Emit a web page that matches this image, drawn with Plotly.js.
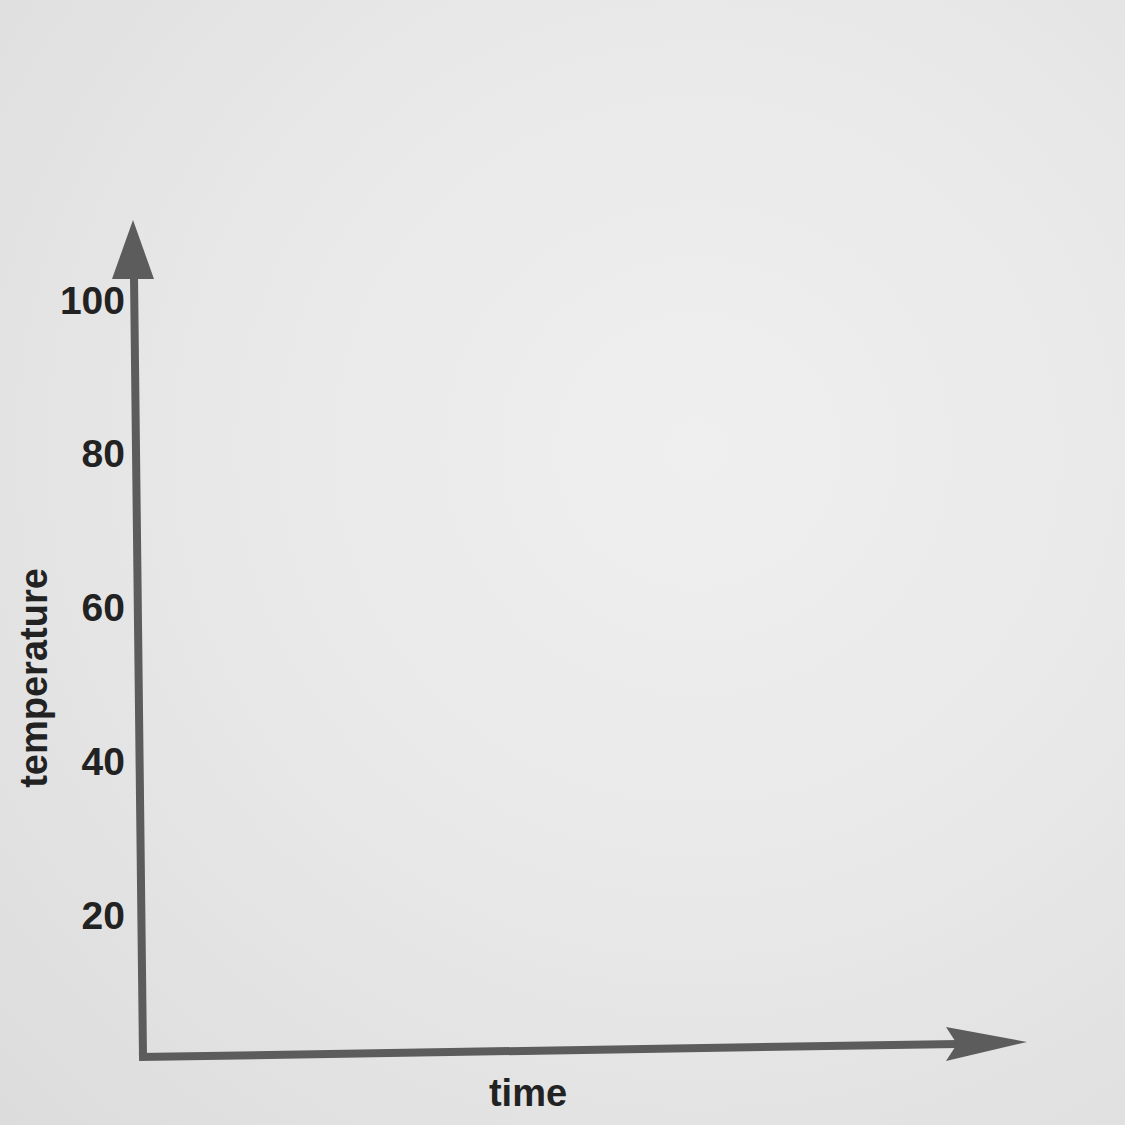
<!DOCTYPE html>
<html>
<head>
<meta charset="utf-8">
<script src="https://cdn.plot.ly/plotly-3.0.1.min.js"></script>
<style>
  html, body { margin: 0; padding: 0; width: 1125px; height: 1125px; overflow: hidden; }
  body { background: radial-gradient(ellipse at 62% 40%, #efefef 0%, #e9e9e9 45%, #dcdcdc 100%); }
  #chart { width: 1125px; height: 1125px; }
</style>
</head>
<body>
<div id="chart"></div>
<script>
// ---- chart content (an empty temperature-vs-time frame) ----
const timeValues = [];          // no plotted data in the reference
const temperatureValues = [];   // no plotted data in the reference
const yTickVals = [20, 40, 60, 80, 100];
const yTickText = ['20', '40', '60', '80', '100'];
const xTitle = 'time';
const yTitle = 'temperature';
const yRange = [1.53, 100.13];
const xRange = [0, 10];

// ---- layout helpers ----
const L = 143, T = 299, R = 913, B = 1057, W = 1125, Hh = 1125;
const pw = R - L, ph = B - T;
const px = x => (x - L) / pw;
const py = y => (B - y) / ph;
const axisColor = '#5c5c5c';
const textColor = '#222222';
const fontFamily = 'Liberation Sans, Arial, sans-serif';

const shapes = [
  // y axis line (slightly tilted, as photographed)
  { type: 'line', xref: 'paper', yref: 'paper',
    x0: px(143), y0: py(1057), x1: px(134), y1: py(276),
    line: { color: axisColor, width: 8 } },
  // y axis arrowhead
  { type: 'path', xref: 'paper', yref: 'paper',
    path: `M ${px(133)},${py(220)} L ${px(112)},${py(279)} L ${px(154)},${py(279)} Z`,
    fillcolor: axisColor, line: { width: 0 } },
  // x axis line
  { type: 'line', xref: 'paper', yref: 'paper',
    x0: px(139), y0: py(1057), x1: px(958), y1: py(1044),
    line: { color: axisColor, width: 8 } },
  // x axis arrowhead (barbed)
  { type: 'path', xref: 'paper', yref: 'paper',
    path: `M ${px(1027)},${py(1042)} L ${px(946)},${py(1027)} L ${px(957)},${py(1044)} L ${px(946)},${py(1061)} Z`,
    fillcolor: axisColor, line: { width: 0 } }
];

const data = [{
  type: 'scatter', mode: 'lines',
  x: timeValues, y: temperatureValues,
  line: { color: axisColor }, showlegend: false, hoverinfo: 'skip'
}];

const layout = {
  width: W, height: Hh,
  margin: { l: L, r: W - R, t: T, b: Hh - B, pad: 0 },
  paper_bgcolor: 'rgba(0,0,0,0)',
  plot_bgcolor: 'rgba(0,0,0,0)',
  font: { family: fontFamily, color: textColor },
  showlegend: false,
  xaxis: {
    range: xRange, showgrid: false, zeroline: false, showline: false,
    showticklabels: false, ticks: '', fixedrange: true,
    title: { text: xTitle, font: { size: 38, color: textColor, weight: 'bold' }, standoff: 22 },
    automargin: false
  },
  yaxis: {
    range: yRange, showgrid: false, zeroline: false, showline: false,
    tickmode: 'array', tickvals: yTickVals, ticktext: yTickText,
    ticks: '', ticklabelstandoff: 17,
    tickfont: { size: 39, color: textColor, weight: 'bold' }, fixedrange: true,
    title: { text: yTitle, font: { size: 38, color: textColor, weight: 'bold' }, standoff: 0 },
    automargin: false
  },
  shapes: shapes
};

Plotly.newPlot('chart', data, layout, { displayModeBar: false, staticPlot: true });
</script>
</body>
</html>
